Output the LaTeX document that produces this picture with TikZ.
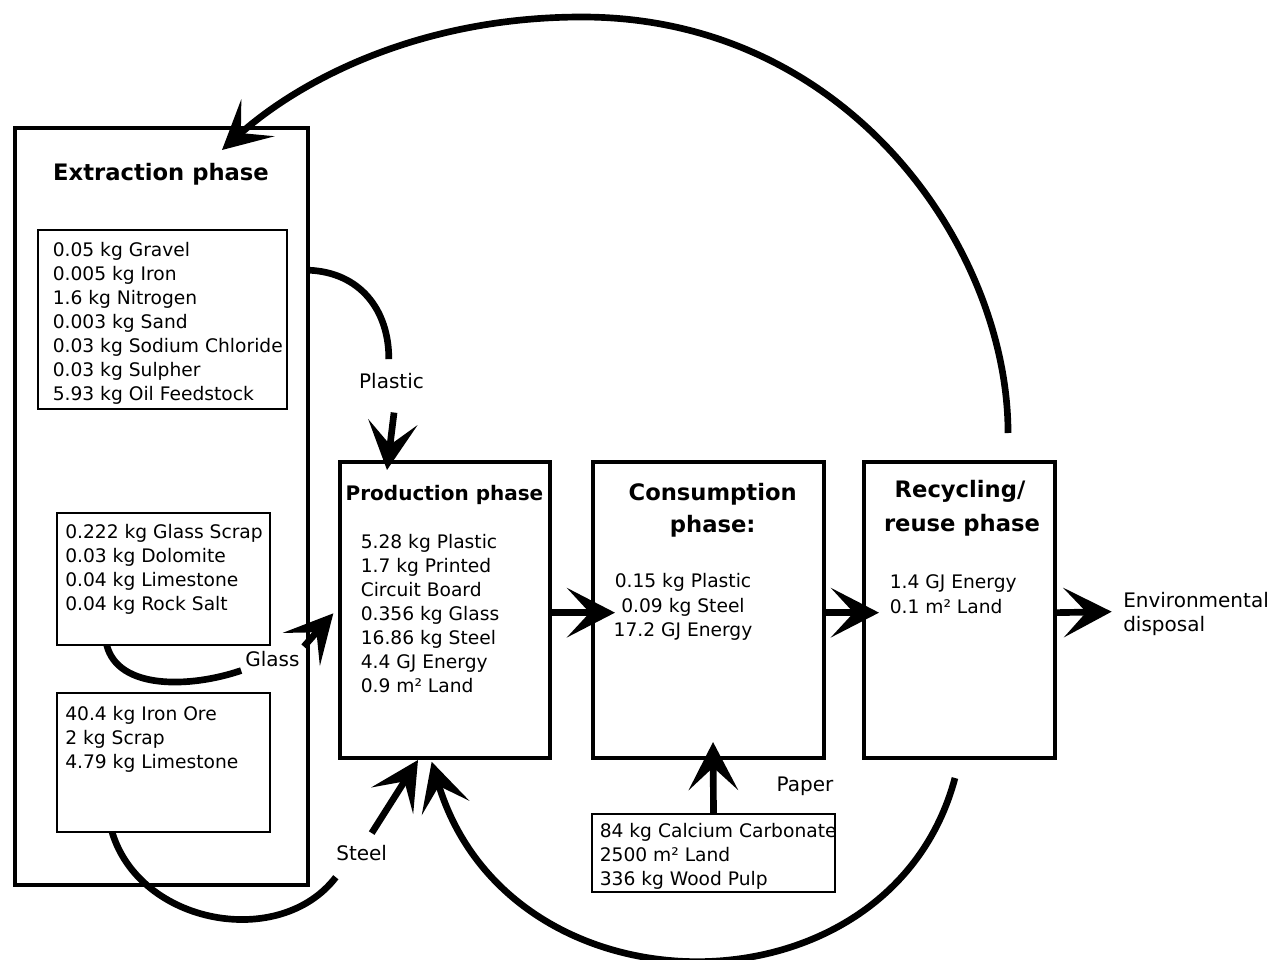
\documentclass[tikz,border=0pt]{standalone}
\usepackage{fontspec}
\setmainfont{DejaVu Sans}
\usetikzlibrary{arrows.meta}
\begin{document}
\begin{tikzpicture}[x=0.75pt, y=-0.75pt,
  phasebox/.style={draw, line width=3pt, inner sep=0pt, outer sep=0pt},
  listbox/.style={draw, line width=1pt, inner sep=0pt, outer sep=0pt},
  itemtext/.style={anchor=base west, inner sep=0pt, font=\fontsize{14}{18}\selectfont},
  phasetitle/.style={anchor=base, inner sep=0pt, font=\fontsize{17}{22}\selectfont\bfseries},
  flowlabel/.style={anchor=base, inner sep=3pt, font=\fontsize{15}{18}\selectfont},
  flowline/.style={line width=5pt},
  flowarrow/.style={line width=5pt, -{Stealth[length=36pt, width=37pt, inset=17pt]}}]
\useasboundingbox (0,0) rectangle (1275,960);

\node[phasebox, minimum width=219.75pt, minimum height=567.75pt] (ext) at (161.5,506.5) {};
\node[listbox, minimum width=186.75pt, minimum height=134.25pt] (ores) at (162.5,319.5) {};
\node[listbox, minimum width=159.75pt, minimum height=99pt] (glassraw) at (163.5,579) {};
\node[listbox, minimum width=159.75pt, minimum height=104.25pt] (steelraw) at (163.5,762.5) {};
\node[phasebox, minimum width=157.5pt, minimum height=222pt] (prod) at (445,610) {};
\node[phasebox, minimum width=173.25pt, minimum height=222pt] (cons) at (708.5,610) {};
\node[phasebox, minimum width=143.25pt, minimum height=222pt] (recy) at (959.5,610) {};
\node[listbox, minimum width=182.25pt, minimum height=58.5pt] (paperraw) at (713.5,853) {};

\node[phasetitle] (exttitle) at (161,180) {Extraction phase};
\node[phasetitle, font=\fontsize{15}{18}\selectfont\bfseries] (prodtitle) at (444.5,500) {Production phase};
\node[phasetitle] (constitle) at (712.7,500) {Consumption};
\node[phasetitle] (constitle2) at (712.7,532) {phase:};
\node[phasetitle] (recytitle) at (960,497) {Recycling/};
\node[phasetitle] (recytitle2) at (962,531.5) {reuse phase};

\foreach \txt [count=\i] in {0.05 kg Gravel,0.005 kg Iron,1.6 kg Nitrogen,0.003 kg Sand,0.03 kg Sodium Chloride,0.03 kg Sulpher,5.93 kg Oil Feedstock}
  \node[itemtext] (ore\i) at (52.5,232+24*\i) {\txt};
\foreach \txt [count=\i] in {0.222 kg Glass Scrap,0.03 kg Dolomite,0.04 kg Limestone,0.04 kg Rock Salt}
  \node[itemtext] (sand\i) at (65,514+24*\i) {\txt};
\foreach \txt [count=\i] in {40.4 kg Iron Ore,2 kg Scrap,4.79 kg Limestone}
  \node[itemtext] (iron\i) at (65,696+24*\i) {\txt};
\foreach \txt [count=\i] in {5.28 kg Plastic,1.7 kg Printed,Circuit Board,0.356 kg Glass,16.86 kg Steel,4.4 GJ Energy,0.9 m² Land}
  \node[itemtext] (prod\i) at (360.5,524+24.1*\i) {\txt};
\foreach \txt [count=\i] in {0.15 kg Plastic,0.09 kg Steel,17.2 GJ Energy}
  \node[itemtext, anchor=base] (cons\i) at (683,563+24.5*\i) {\txt};
\foreach \txt [count=\i] in {1.4 GJ Energy,0.1 m² Land}
  \node[itemtext] (recy\i) at (889.5,563+25*\i) {\txt};
\foreach \txt [count=\i] in {84 kg Calcium Carbonate,2500 m² Land,336 kg Wood Pulp}
  \node[itemtext] (pulp\i) at (599.5,813+24*\i) {\txt};
\foreach \txt [count=\i] in {Environmental,disposal}
  \node[itemtext, font=\fontsize{15}{18}\selectfont] (env\i) at (1123,583+24*\i) {\txt};

\node[flowlabel] (plastic) at (391.5,388) {Plastic};
\node[flowlabel] (glass) at (272.5,666) {Glass};
\node[flowlabel] (steel) at (361.7,860) {Steel};
\node[flowlabel] (paper) at (805,791) {Paper};

\draw[flowline] ([xshift=15.75pt,yshift=37pt]ores.east) .. controls (360,272) and (389,310) .. ([xshift=-2pt,yshift=7pt]plastic.north);
\draw[flowarrow] ([xshift=1.9pt,yshift=-15pt]plastic.south) -- ([xshift=-43.5pt,yshift=-6pt]prod.north);
\draw[flowline] ([xshift=-42.6pt]glassraw.south) .. controls (118,690) and (190,688) .. (glass.south west);
\draw[flowarrow] (glass.north east) -- ([xshift=-5pt,yshift=-2.5pt]prod.west);
\draw[flowline] ([xshift=-38.6pt]steelraw.south) .. controls (140,925) and (280,950) .. ([xshift=2.8pt,yshift=-9.5pt]steel.south west);
\draw[flowarrow] ([xshift=7.5pt,yshift=5.6pt]steel.north) -- ([xshift=-20.25pt,yshift=-1.5pt]prod.south);

\draw[flowarrow] ([yshift=-2pt]prod.east) -- ([xshift=16.5pt,yshift=-2pt]cons.west);
\draw[flowarrow] ([yshift=-2pt]cons.east) -- ([xshift=11.25pt,yshift=-2pt]recy.west);
\draw[flowarrow] ([yshift=-2pt]recy.east) -- ([xshift=-8.5pt,yshift=-3.5pt]env1.base west);
\draw[flowarrow] (paperraw.north) -- ([xshift=3.4pt,yshift=12pt]cons.south);

\draw[flowarrow] ([xshift=-3.4pt,yshift=-15pt]recy.south) .. controls (890,1022) and (510,1022) .. ([xshift=-10pt,yshift=-2.8pt]prod.south);
\coordinate (apex) at (582,17);
\draw[flowarrow] ([xshift=36.4pt,yshift=21.75pt]recy.north) .. controls (1008,250) and (850,17) .. (apex) .. controls (420,17) and (300,80) .. ([xshift=-64.5pt,yshift=-16.5pt]ext.north east);
\end{tikzpicture}
\end{document}
